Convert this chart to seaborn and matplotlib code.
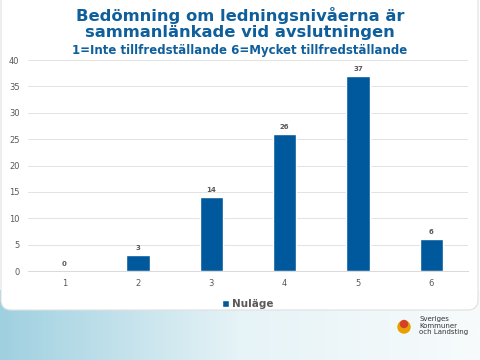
import numpy as np
import pandas as pd
import matplotlib
matplotlib.use("Agg")
import matplotlib.pyplot as plt
import seaborn as sns
from matplotlib.patches import FancyBboxPatch, Circle

# === Data ===
categories = ["1", "2", "3", "4", "5", "6"]
nulage = [0, 3, 14, 26, 37, 6]
series_name = "Nuläge"

df = pd.DataFrame({"betyg": categories, "antal": nulage, "serie": series_name})

bar_color = "#00599C"
title_color = "#0E5F9B"
text_grey = "#595959"

sns.set_theme(style="white")
plt.rcParams["font.family"] = ["DejaVu Sans"]

fig = plt.figure(figsize=(4.8, 3.6), dpi=100)
fig.patch.set_facecolor("white")

# slide background: light blue at bottom, white rounded panel on top
bg = fig.add_axes([0, 0, 1, 1], zorder=-10)
grad = np.linspace(0, 1, 256).reshape(1, -1)
bg.imshow(grad, extent=[0, 480, 360, 290], cmap=matplotlib.colors.LinearSegmentedColormap.from_list(
    "bgc", ["#9fd0e0", "#e6f3f7", "#f7fbfc"]), aspect="auto")
bg.add_patch(FancyBboxPatch((1, -20), 477, 330, boxstyle="round,pad=0,rounding_size=10",
                            facecolor="white", edgecolor="#e0e0e0", lw=0.8))
bg.set_xlim(0, 480)
bg.set_ylim(360, 0)
bg.axis("off")

# small logo
bg.add_patch(Circle((404, 327), 6, color="#e8a000"))
bg.add_patch(Circle((404, 324), 3.5, color="#d6402a"))
bg.text(419, 316, "Sveriges\nKommuner\noch Landsting", fontsize=5, color="#333333",
        va="top", ha="left", linespacing=1.1)

ax = fig.add_axes([0.058, 0.247, 0.917, 0.586])
sns.barplot(data=df, x="betyg", y="antal", hue="serie", palette=[bar_color],
            width=0.32, saturation=1, ax=ax, zorder=3)

ax.set_ylim(0, 40)
ax.set_yticks(range(0, 41, 5))
ax.yaxis.grid(True, color="#e3e3e3", lw=0.7, zorder=0)
ax.set_axisbelow(True)
for s in ["top", "right", "left"]:
    ax.spines[s].set_visible(False)
ax.spines["bottom"].set_color("#d9d9d9")
ax.spines["bottom"].set_linewidth(0.7)
ax.set_xlabel("")
ax.set_ylabel("")
ax.tick_params(axis="both", labelsize=6, colors=text_grey, length=0, pad=6)
ax.set_facecolor("none")

for i, v in enumerate(nulage):
    ax.text(i, v + 0.8, str(v), ha="center", va="bottom", fontsize=5,
            fontweight="bold", color=text_grey)

leg = ax.legend(loc="upper center", bbox_to_anchor=(0.5, -0.09), frameon=False,
                handlelength=0.6, handleheight=0.6, handletextpad=0.3,
                prop={"size": 7.5, "weight": "bold"})
for t in leg.get_texts():
    t.set_color(text_grey)

fig.text(0.5, 0.935, "Bedömning om ledningsnivåerna är\nsammanlänkade vid avslutningen",
         ha="center", va="center", fontsize=11.8, fontweight="bold", color=title_color,
         linespacing=1.15)
fig.text(0.5, 0.861, "1=Inte tillfredställande 6=Mycket tillfredställande",
         ha="center", va="center", fontsize=8.5, fontweight="bold", color=title_color)

fig.savefig("out.png", dpi=100)
